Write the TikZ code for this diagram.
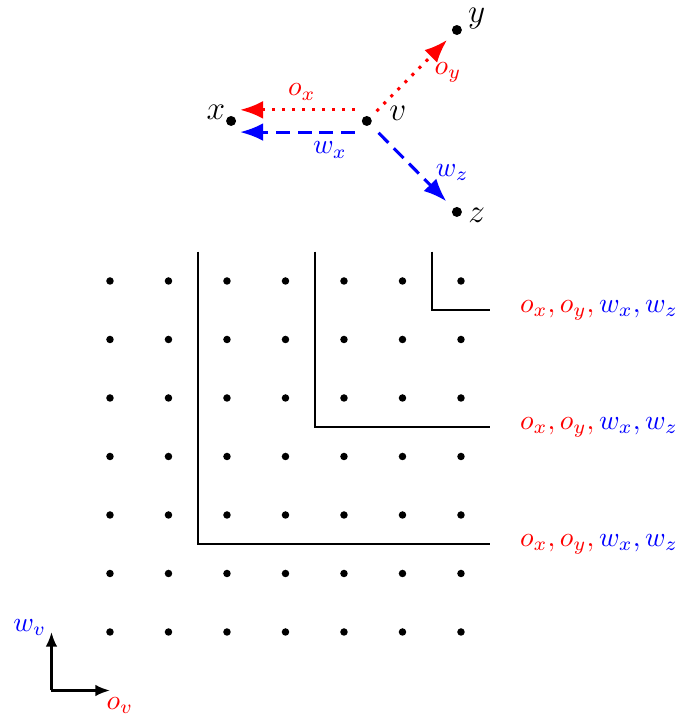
\documentclass[tikz,border=0pt]{standalone}
\usetikzlibrary{arrows.meta}
\begin{document}
\begin{tikzpicture}[x=0.74cm, y=0.74cm, font=\fontsize{10.3pt}{12pt}\selectfont,
		gdot/.style={circle, fill=black, inner sep=0pt, minimum size=2.7pt},
		vdot/.style={circle, fill=black, inner sep=0pt, minimum size=3.6pt},
		vlabel/.style={font=\fontsize{12.3pt}{14pt}\selectfont},
		wall/.style={line width=0.85pt},
		oarrow/.style={-{Latex[length=8.3pt,width=6.4pt]}, red, line width=1.1pt, dash pattern=on 1.1pt off 2.5pt},
		warrow/.style={-{Latex[length=8.3pt,width=6.4pt]}, blue, line width=1.1pt, dash pattern=on 5pt off 2.8pt},
		axis/.style={-{Latex[length=5.3pt,width=4.2pt]}, line width=0.85pt}]
		
		\useasboundingbox (-1.880,-1.453) rectangle (9.795,10.803);
		
		% the vertex v and its neighbours
		\node [vdot] (v) at (4.39,8.735) {};
		\node [vdot] (x) at (2.07,8.735) {};
		\node [vdot] (y) at (5.93,10.29) {};
		\node [vdot] (z) at (5.93,7.18) {};
		\node [vlabel] (lv) at (4.92,8.87) {$v$};
		\node [vlabel] (lx) at (1.81,8.89) {$x$};
		\node [vlabel] (ly) at (6.27,10.48) {$y$};
		\node [vlabel] (lz) at (6.27,7.13) {$z$};
		
		\draw [oarrow] ([shift={(-4.3pt,4pt)}]v.center) -- ([shift={(3.2pt,4pt)}]x.center);
		\draw [warrow] ([shift={(-4.3pt,-4pt)}]v.center) -- ([shift={(3.2pt,-4pt)}]x.center);
		\draw [oarrow, shorten <=3pt, shorten >=3pt] (v) -- (y);
		\draw [warrow, shorten <=4pt, shorten >=3.4pt] (v) -- (z);
		\node [text=red] (lox) at (3.28,9.23) {$o_x$};
		\node [text=blue] (lwx) at (3.76,8.24) {$w_x$};
		\node [text=red] (loy) at (5.78,9.57) {$o_y$};
		\node [text=blue] (lwz) at (5.85,7.86) {$w_z$};
		
		% grid
		\foreach \i in {0,...,6}
			\foreach \j in {0,...,6}
				\node [gdot] (g\i\j) at (\i,\j) {};
		
		\foreach \k/\n in {1.5/a, 3.5/b, 5.5/c} {
			\draw [wall] (\k,6.5) |- (6.5,\k);
			\node [anchor=west, inner sep=0pt] (lab\n) at (7,\k)
				{$\color{red}o_x, o_y, \color{blue}w_x, w_z$};
		}
		
		% axes
		\coordinate (o) at (-1,-1);
		\coordinate (ov) at (0,-1);
		\coordinate (wv) at (-1,0);
		\draw [axis] (o) -- (wv);
		\draw [axis] (o) -- (ov);
		\node [text=blue] (lwv) at (-1.37,0.07) {$w_v$};
		\node [text=red] (lov) at (0.17,-1.25) {$o_v$};
	\end{tikzpicture}
\end{document}
